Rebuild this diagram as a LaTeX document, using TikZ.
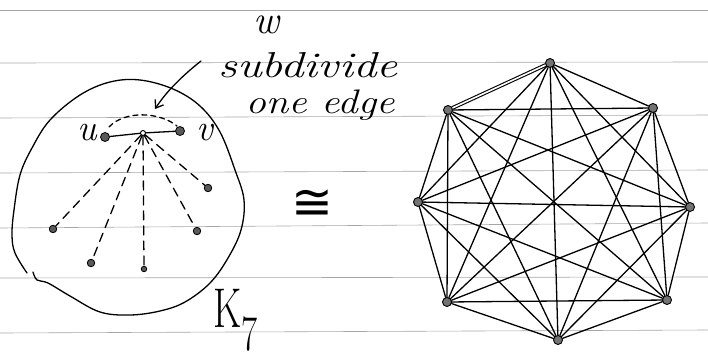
\documentclass[tikz,border=0pt]{standalone}
\usepackage{fontspec}
\newfontfamily\symfont{DejaVu Sans}
\usetikzlibrary{arrows.meta}
\begin{document}
\begin{tikzpicture}[x=1pt,y=-1pt,
  ink/.style={line width=1.3pt, line cap=round, line join=round},
  rule/.style={black!35, line width=0.6pt},
  vdot/.style={circle, fill=black!65, draw=black, line width=0.8pt, inner sep=0pt, minimum size=8pt},
  odot/.style={circle, fill=black!65, draw=black, line width=0.8pt, inner sep=0pt, minimum size=7.5pt},
  wdot/.style={circle, fill=white, draw=black, line width=0.9pt, inner sep=0pt, minimum size=5pt},
  kv/.style={circle, fill=black!55, draw=black, line width=0.9pt, inner sep=0pt, minimum size=9pt},
  dashedge/.style={ink, dash pattern=on 9pt off 6pt},
  lab/.style={font=\fontsize{37}{39}\selectfont\itshape, inner sep=0pt},
  hand/.style={font=\fontsize{36}{38}\selectfont\itshape, inner sep=0pt}
]
\useasboundingbox (0,0) rectangle (708,361);
% ruled paper
\foreach \a/\b in {10/10, 63/62, 118/115, 173/170, 228/223, 278/277, 333/330}
  \draw[rule] (0,\a) -- (708,\b);

% ---------- left drawing ----------
\draw[ink] plot[smooth, tension=0.6] coordinates {(27,273) (15,253) (12,235) (14,210) (20,175) (32,148) (50,120) (80,95) (110,82) (140,80) (173,89) (200,106) (220,132) (235,170) (244,200) (241,230) (228,258) (210,283) (185,302) (160,311) (130,315) (100,312) (70,296) (48,283) (37,280) (33,272)};

\node[vdot, minimum width=9pt] (u) at (105,137) {};
\node[wdot] (w) at (143,133) {};
\node[vdot, minimum width=9pt] (v) at (180,131) {};
\node[odot] (o1) at (53,229) {};
\node[odot] (o2) at (91,263) {};
\node[odot, minimum size=5.5pt] (o3) at (144,269) {};
\node[odot] (o4) at (197,231) {};
\node[odot] (o5) at (208,188) {};

\draw[ink] (u) -- (w) -- (v);
\foreach \t in {o1,o2,o3,o4,o5}
  \draw[dashedge] (w) -- (\t);

\coordinate (a1) at (109,127);
\coordinate (a2) at (177,126);
\draw[ink, dash pattern=on 5pt off 4pt] (a1) .. controls (125,110) and (160,112) .. (a2);

\coordinate (arrS) at (201,61);
\coordinate (arrE) at (155,109);
\draw[ink, -{Straight Barb[length=7pt,width=10pt]}] (arrS) .. controls (182,76) and (166,92) .. (arrE);

\node[lab] (ulab) at (87,133) {u};
\node[lab] (vlab) at (205,133) {v};
\node[lab, font=\fontsize{40}{42}\selectfont\itshape] (wlab) at (266,25) {w};
\node[hand, anchor=base] (sub) at (308,77) {\scalebox{1.3}[1]{subdivide}};
\node[hand, font=\fontsize{34}{36}\selectfont\itshape, anchor=base] (one) at (320,113) {\scalebox{1.2}[1]{one edge}};
\node[inner sep=0pt, font=\fontsize{50}{50}\selectfont\symfont] (cong) at (312,205) {≅};
\node[inner sep=0pt, anchor=base west] (k7) at (213,327)
  {\fontsize{56}{56}\selectfont\scalebox{0.7}[1]{K}\raisebox{-23pt}{\fontsize{50}{50}\selectfont\scalebox{0.7}[1]{7}}};

% ---------- right drawing: K8 ----------
\node[kv] (k1) at (550,63) {};
\node[kv] (k2) at (653,108) {};
\node[kv] (k3) at (690,207) {};
\node[kv] (k4) at (667,300) {};
\node[kv] (k5) at (558,340) {};
\node[kv] (k6) at (447,302) {};
\node[kv] (k7) at (418,202) {};
\node[kv] (k8) at (448,110) {};
\foreach \i [evaluate=\i as \s using int(\i+1)] in {1,...,7}
  \foreach \j in {\s,...,8}
    \draw[ink] (k\i) -- (k\j);
\draw[line width=1.1pt, double=white, double distance=1.6pt] (k1) -- (k8);
\end{tikzpicture}
\end{document}
